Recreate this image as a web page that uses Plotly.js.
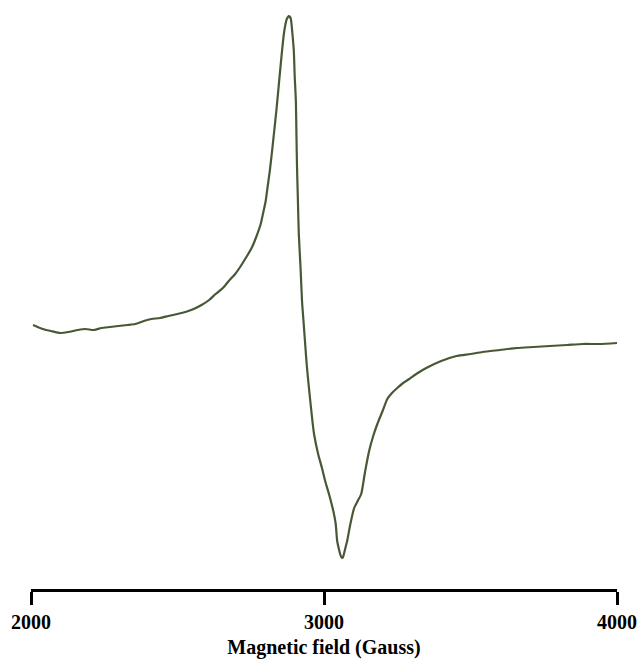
<!DOCTYPE html>
<html>
<head>
<meta charset="utf-8">
<script src="https://cdn.plot.ly/plotly-3.0.1.min.js"></script>
<style>html,body{margin:0;padding:0;background:#fff;}#chart{width:643px;height:662px;}</style>
</head>
<body>
<div id="chart"></div>
<script>
// Magnetic field (Gauss)
const field = [2007,2040,2068,2100,2127,2160,2185,2215,2240,2270,2298,2330,2356,2385,2411,2440,2469,2500,2527,2555,2582,2608,2630,2655,2675,2697,2716,2735,2753,2770,2784,2793,2801,2808,2815,2822,2829,2838,2846,2855,2863,2868,2873,2877,2880,2884,2887,2892,2897,2900,2904,2906,2908,2911,2914,2920,2925,2930,2935,2942,2955,2966,2980,2993,3005,3017,3026,3034,3040,3045,3050,3055,3059,3062,3065,3068,3073,3079,3090,3103,3115,3127,3140,3154,3168,3182,3200,3216,3232,3250,3270,3291,3320,3349,3400,3452,3500,3541,3600,3658,3715,3771,3830,3884,3940,4000];
// Signal intensity (arbitrary units, derivative EPR spectrum)
const intensity = [11,7,5,3,4,6,7,6,8,9,10,11,12,15,17,18,20,22,24,27,31,36,42,48,55,62,70,79,88,100,112,124,135,150,165,183,202,227,252,280,302,311,317,319,320,319,317,303,285,260,235,200,168,135,102,68,35,15,-5,-32,-70,-98,-118,-132,-146,-158,-168,-178,-188,-205,-212,-218,-221,-222,-221,-218,-212,-205,-188,-172,-165,-158,-136,-115,-100,-88,-75,-63,-57,-52,-47,-43,-37,-32,-25,-20,-18,-16,-14,-12,-11,-10,-9,-8,-8,-7];
const tickVals = [2000,3000,4000];
const tickText = ['2000','3000','4000'];

const trace = {
  x: field, y: intensity, type: 'scatter', mode: 'lines',
  line: {color: '#485836', width: 2.2, shape: 'spline', smoothing: 0.6},
  hoverinfo: 'skip'
};
const layout = {
  width: 643, height: 662,
  margin: {l: 31, r: 26, t: 6, b: 73},
  paper_bgcolor: '#ffffff', plot_bgcolor: '#ffffff',
  showlegend: false,
  font: {family: '"Liberation Serif", "DejaVu Serif", serif', color: '#000'},
  xaxis: {
    range: [2000, 4000], fixedrange: true,
    showgrid: false, zeroline: false,
    showline: true, linecolor: '#000', linewidth: 3,
    ticks: 'outside', ticklen: 13, tickwidth: 3, tickcolor: '#000',
    tickvals: tickVals, ticktext: tickText,
    tickfont: {family: '"Liberation Serif", serif', size: 20, color: '#000', weight: 'bold'},
    title: {text: '<b>Magnetic field (Gauss)</b>', font: {family: '"Liberation Serif", serif', size: 20, color: '#000'}, standoff: 8}
  },
  yaxis: {range: [-253, 330], visible: false, fixedrange: true}
};
Plotly.newPlot('chart', [trace], layout, {displayModeBar: false, staticPlot: true});
</script>
</body>
</html>
